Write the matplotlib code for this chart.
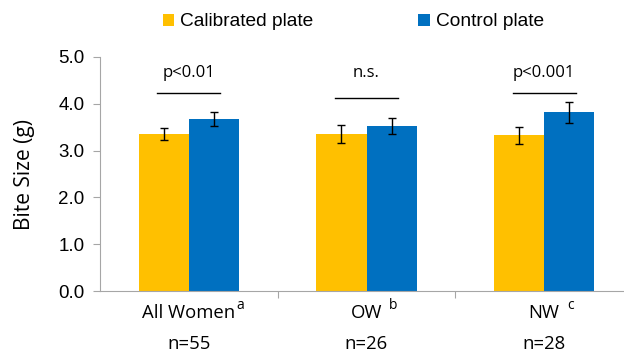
import matplotlib
matplotlib.use("Agg")
import matplotlib.pyplot as plt
import numpy as np

groups = ["All Women", "OW", "NW"]
sups = ["a", "b", "c"]
counts = ["n=55", "n=26", "n=28"]
calibrated = [3.35, 3.36, 3.33]
calibrated_err = [0.13, 0.19, 0.18]
control = [3.67, 3.52, 3.82]
control_err = [0.15, 0.17, 0.22]
sig_labels = ["p<0.01", "n.s.", "p<0.001"]
sig_heights = [4.23, 4.12, 4.23]
series = ["Calibrated plate", "Control plate"]

yellow = "#FFC000"
blue = "#0070C0"
axis_grey = "#A6A6A6"

fig = plt.figure(figsize=(6.24, 3.52), dpi=100)
ax = fig.add_axes([100 / 624, 61 / 352, 533 / 624, 234 / 352])

x = np.arange(len(groups))
w = 0.283
err_kw = dict(ecolor="black", elinewidth=1.0, capsize=3, capthick=1.0)
ax.bar(x - w / 2, calibrated, w, yerr=calibrated_err, color=yellow,
       label=series[0], error_kw=err_kw, zorder=2)
ax.bar(x + w / 2, control, w, yerr=control_err, color=blue,
       label=series[1], error_kw=err_kw, zorder=2)

ax.set_xlim(-0.5, 2.5)
ax.set_ylim(0, 5)
ax.set_yticks(np.arange(0, 5.1, 1.0))
ax.set_yticklabels(["%.1f" % v for v in np.arange(0, 5.1, 1.0)],
                   family="Liberation Sans", fontsize=13.5)
ax.set_ylabel("Bite Size (g)", family="Open Sans", fontsize=15, labelpad=17)

for s in ["top", "right"]:
    ax.spines[s].set_visible(False)
for s in ["left", "bottom"]:
    ax.spines[s].set_color(axis_grey)
ax.tick_params(axis="y", direction="out", length=5, color=axis_grey, pad=6)
ax.set_xticks([0.5, 1.5, 2.5])
ax.set_xticklabels([])
ax.tick_params(axis="x", direction="out", length=5, color=axis_grey)

# significance bars
half = 0.177
for i in range(len(groups)):
    ax.plot([i - half, i + half], [sig_heights[i]] * 2, color="black", lw=1.0)
    ax.text(i, 4.66, sig_labels[i], ha="center", va="center",
            family="Open Sans", fontsize=12)

# category labels with superscripts
sup_dx = [37, 19, 19]
for i, g in enumerate(groups):
    ax.annotate(g, xy=(i, 0), xycoords=("data", "axes fraction"),
                xytext=(0, -16), textcoords="offset points",
                ha="center", va="center", family="Open Sans", fontsize=13.3)
    ax.annotate(sups[i], xy=(i, 0), xycoords=("data", "axes fraction"),
                xytext=(sup_dx[i], -10.5), textcoords="offset points",
                ha="center", va="center", family="Open Sans", fontsize=10)
    ax.annotate(counts[i], xy=(i, 0), xycoords=("data", "axes fraction"),
                xytext=(0, -38.5), textcoords="offset points",
                ha="center", va="center", family="Open Sans", fontsize=13.3)

leg = fig.legend(loc="center", bbox_to_anchor=(0.566, 1 - 22 / 352), ncol=2,
                 frameon=False, prop={"family": "Liberation Sans", "size": 13.8},
                 handlelength=0.6, handleheight=0.6, handletextpad=0.3,
                 columnspacing=5.5, borderpad=0)

fig.savefig("out.png", dpi=100)
